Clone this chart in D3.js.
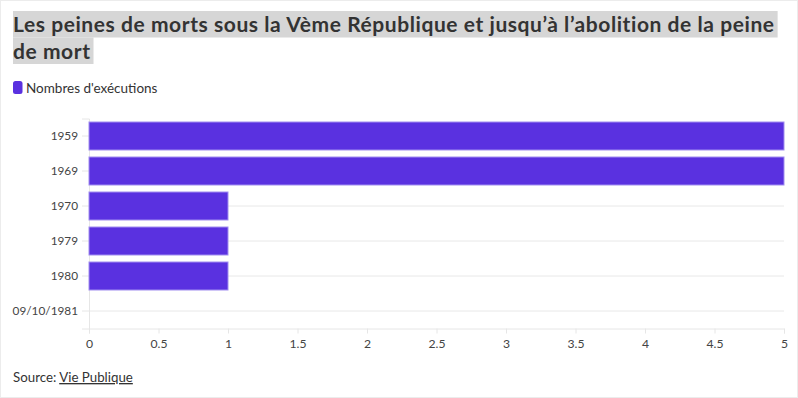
<!DOCTYPE html>
<html><head><meta charset="utf-8">
<script src="https://cdn.jsdelivr.net/npm/d3@7"></script>
<style>
html,body{margin:0;padding:0;background:#fff;}
svg{display:block;}
</style></head>
<body>
<script>
const categories = ["1959","1969","1970","1979","1980","09/10/1981"];
const executions = [5,5,1,1,1,0];
const xTicks = [0,0.5,1,1.5,2,2.5,3,3.5,4,4.5,5];
const seriesName = "Nombres d'exécutions";
const titleLines = ["Les peines de morts sous la Vème République et jusqu’à l’abolition de la peine","de mort"];
const font = "Lato, 'Source Sans Pro', sans-serif";

const W = 798, H = 398;
const svg = d3.select("body").append("svg").attr("width", W).attr("height", H);
svg.append("rect").attr("x",0.5).attr("y",0.5).attr("width",W-1).attr("height",H-1)
  .attr("fill","#fff").attr("stroke","#ececec");

// Title
const tg = svg.append("g");
const txts = titleLines.map((t,i)=> tg.append("text").attr("x",13).attr("y",32 + i*26.5)
    .attr("font-family",font).attr("font-weight",700).attr("font-size",21)
    .attr("fill","#333").text(t));
const w0 = txts[0].node().getComputedTextLength();
const ls = (762 - w0) / (titleLines[0].length);
txts.forEach((txt,i)=>{
  txt.attr("letter-spacing", ls);
  const w = txt.node().getComputedTextLength();
  tg.insert("rect","text").attr("x",13).attr("y",11+i*26.5).attr("width",w+3).attr("height",26.5)
    .attr("fill","#d6d6d6");
});

// Legend
const color = "#5a31e0";
svg.append("rect").attr("x",13).attr("y",81).attr("width",9.5).attr("height",13).attr("rx",2.5).attr("fill",color);
svg.append("text").attr("x",26).attr("y",92.5).attr("font-family",font).attr("font-size",13.5)
  .attr("fill","#333").text(seriesName);

// Chart
const x = d3.scaleLinear().domain([0,5]).range([89,784]);
const y = d3.scaleBand().domain(categories).range([118.5,328.5]).paddingInner(0.2).paddingOuter(0.1);

svg.append("g").selectAll("line").data(categories).join("line")
  .attr("x1",x(0)).attr("x2",x(5))
  .attr("y1",d=>y(d)+y.bandwidth()/2).attr("y2",d=>y(d)+y.bandwidth()/2)
  .attr("stroke","#e8e8e8");

const yAxis = svg.append("g").attr("transform",`translate(${x(0)},0)`)
  .call(d3.axisLeft(y).tickSize(7).tickPadding(4));
yAxis.select(".domain").attr("stroke","#e6e6e6");
yAxis.selectAll(".tick line").attr("stroke","#e6e6e6");
yAxis.selectAll("text").attr("font-family",font).attr("font-size",11.8).attr("fill","#444");

const xAxis = svg.append("g").attr("transform",`translate(0,328.5)`)
  .call(d3.axisBottom(x).tickValues(xTicks).tickSize(5).tickPadding(6).tickFormat(d3.format("")));
xAxis.select(".domain").attr("stroke","#e6e6e6");
xAxis.selectAll(".tick line").attr("stroke","#e6e6e6");
xAxis.selectAll("text").attr("font-family",font).attr("font-size",12.2).attr("fill","#444");

svg.append("g").selectAll("rect").data(categories.map((c,i)=>({c,v:executions[i]})).filter(d=>d.v>0))
  .join("rect")
  .attr("x",x(0)).attr("y",d=>y(d.c))
  .attr("width",d=>x(d.v)-x(0)).attr("height",y.bandwidth())
  .attr("fill",color).attr("stroke","#a18ef0").attr("stroke-width",1);

// Source
const src = svg.append("text").attr("x",13).attr("y",382).attr("font-family",font).attr("font-size",13.3).attr("fill","#333");
src.append("tspan").text("Source: ");
src.append("tspan").attr("text-decoration","underline").text("Vie Publique");
</script>
</body></html>
